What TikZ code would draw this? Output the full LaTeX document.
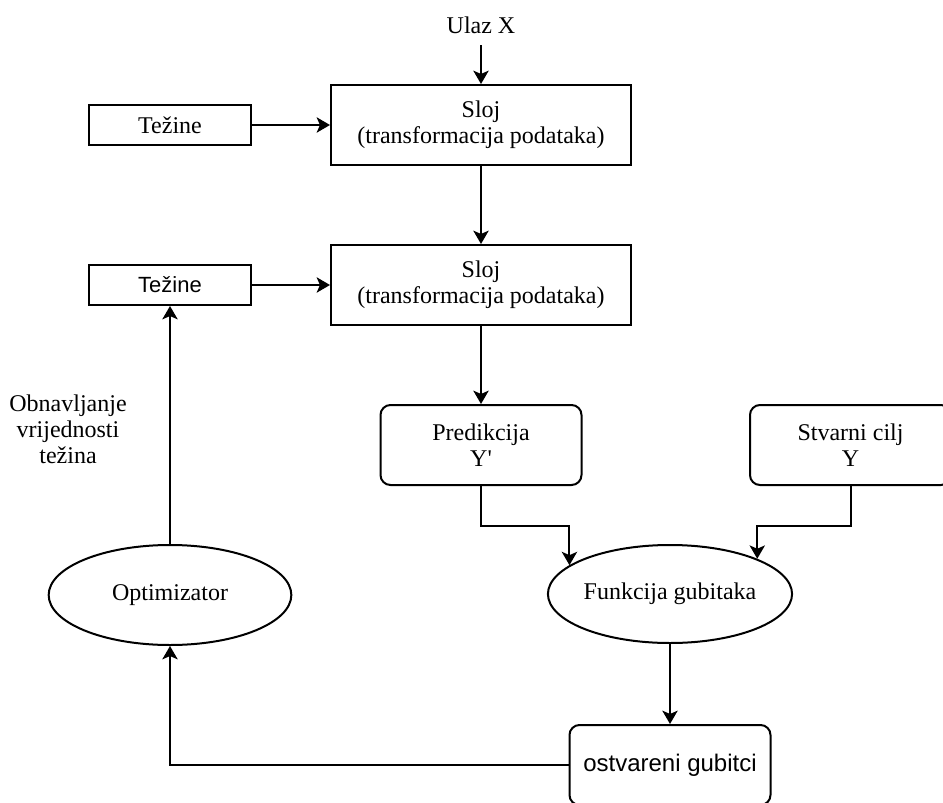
\documentclass[tikz,border=0pt]{standalone}
\usepackage{fontspec}
\setmainfont{Liberation Serif}
\newfontfamily\arialf{Liberation Sans}
\newfontfamily\plainserif{Liberation Serif}[Ligatures=TeXOff]
\usetikzlibrary{arrows.meta,shapes.geometric}
\tikzset{
  lw/.style={line width=1.5pt},
  arr/.style={lw,-{Stealth[length=10pt,width=11.5pt,inset=2.5pt]}},
  serif/.style={font=\fontsize{18}{19.5}\selectfont, align=center},
  sbox/.style={draw, lw, rectangle, inner sep=0pt, serif},
  rbox/.style={sbox, rounded corners=7.5pt},
  ell/.style={draw, lw, ellipse, inner sep=0pt, serif},
}
\begin{document}
\begin{tikzpicture}[x=0.75pt,y=-0.75pt]
\useasboundingbox (0,0) rectangle (943,803);
\path[clip] (0,0) rectangle (943,803);
\fill[white] (0,0) rectangle (943,803);

\node[serif, anchor=base] (ulaz) at (481,33) {Ulaz X};
\coordinate (uin) at (481,45);

\node[sbox, minimum width=225pt, minimum height=60pt] (sloj1) at (481,125) {Sloj\\(transformacija podataka)};
\node[sbox, minimum width=225pt, minimum height=60pt] (sloj2) at (481,285) {Sloj\\(transformacija podataka)};
\node[sbox, minimum width=121.5pt, minimum height=30pt] (tez1) at (170,125) {Težine};
\node[sbox, minimum width=121.5pt, minimum height=30pt, font=\arialf\fontsize{16.5}{18}\selectfont] (tez2) at (170,285) {Težine};

\node[rbox, minimum width=150.75pt, minimum height=60pt] (pred) at (481,445) {Predikcija\\{\plainserif Y'}};
\node[rbox, minimum width=150.75pt, minimum height=60pt] (stv) at (850.5,445) {Stvarni cilj\\Y};

\node[ell, minimum width=183pt, minimum height=73.5pt] (funk) at (670,594) {Funkcija gubitaka};
\node[ell, minimum width=182pt, minimum height=75pt] (opt) at (170,595) {Optimizator};

\node[rbox, minimum width=150.75pt, minimum height=60pt, font=\arialf\fontsize{18}{19.5}\selectfont] (ostv) at (670,765) {ostvareni gubitci};

\node[serif] (lbl) at (68,429) {Obnavljanje\\vrijednosti\\težina};

\draw[arr] (uin) -- (sloj1);
\draw[arr] (tez1) -- (sloj1);
\draw[arr] (sloj1) -- (sloj2);
\draw[arr] (tez2) -- (sloj2);
\draw[arr] (sloj2) -- (pred);
\draw[arr] (pred.south) -- ++(0,40) -| (funk.164);
\draw[arr] (stv.south) -- ++(0,40) -| (funk.22);
\draw[arr] (funk.south) -- (ostv.north);
\draw[arr] (ostv.west) -| (opt.south);
\draw[arr] (opt.north) -- (tez2.south);
\end{tikzpicture}
\end{document}
